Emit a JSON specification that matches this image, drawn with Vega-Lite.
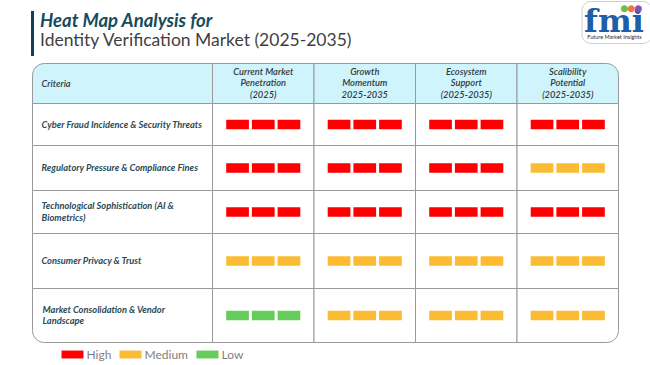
{
  "$schema": "https://vega.github.io/schema/vega-lite/v6.json",
  "padding": {"left": 30.5, "top": 0, "right": 0, "bottom": 0},
  "spacing": 4.5,
  "resolve": {"scale": {"color": "independent"}, "legend": {"color": "independent"}},
  "config": {"view": {"stroke": null}, "font": "Lato"},
  "datasets": {
    "crit": [
      {"criteria": "Cyber Fraud Incidence & Security Threats", "label": "Cyber Fraud Incidence & Security Threats"},
      {"criteria": "Regulatory Pressure & Compliance Fines", "label": "Regulatory Pressure & Compliance Fines"},
      {"criteria": "Technological Sophistication (AI & Biometrics)", "label": "Technological Sophistication (AI &\nBiometrics)"},
      {"criteria": "Consumer Privacy & Trust", "label": "Consumer Privacy & Trust"},
      {"criteria": "Market Consolidation & Vendor Landscape", "label": "Market Consolidation & Vendor\nLandscape"}
    ],
    "metrics": [
      {"metric": "Current Market Penetration (2025)", "head": "Current Market\nPenetration\n(2025)"},
      {"metric": "Growth Momentum 2025-2035", "head": "Growth\nMomentum\n2025-2035"},
      {"metric": "Ecosystem Support (2025-2035)", "head": "Ecosystem\nSupport\n(2025-2035)"},
      {"metric": "Scalibility Potential (2025-2035)", "head": "Scalibility\nPotential\n(2025-2035)"}
    ],
    "cells": [
      {"criteria": "Cyber Fraud Incidence & Security Threats", "metric": "Current Market Penetration (2025)", "level": "High", "bar": 1},
      {"criteria": "Cyber Fraud Incidence & Security Threats", "metric": "Current Market Penetration (2025)", "level": "High", "bar": 2},
      {"criteria": "Cyber Fraud Incidence & Security Threats", "metric": "Current Market Penetration (2025)", "level": "High", "bar": 3},
      {"criteria": "Cyber Fraud Incidence & Security Threats", "metric": "Growth Momentum 2025-2035", "level": "High", "bar": 1},
      {"criteria": "Cyber Fraud Incidence & Security Threats", "metric": "Growth Momentum 2025-2035", "level": "High", "bar": 2},
      {"criteria": "Cyber Fraud Incidence & Security Threats", "metric": "Growth Momentum 2025-2035", "level": "High", "bar": 3},
      {"criteria": "Cyber Fraud Incidence & Security Threats", "metric": "Ecosystem Support (2025-2035)", "level": "High", "bar": 1},
      {"criteria": "Cyber Fraud Incidence & Security Threats", "metric": "Ecosystem Support (2025-2035)", "level": "High", "bar": 2},
      {"criteria": "Cyber Fraud Incidence & Security Threats", "metric": "Ecosystem Support (2025-2035)", "level": "High", "bar": 3},
      {"criteria": "Cyber Fraud Incidence & Security Threats", "metric": "Scalibility Potential (2025-2035)", "level": "High", "bar": 1},
      {"criteria": "Cyber Fraud Incidence & Security Threats", "metric": "Scalibility Potential (2025-2035)", "level": "High", "bar": 2},
      {"criteria": "Cyber Fraud Incidence & Security Threats", "metric": "Scalibility Potential (2025-2035)", "level": "High", "bar": 3},
      {"criteria": "Regulatory Pressure & Compliance Fines", "metric": "Current Market Penetration (2025)", "level": "High", "bar": 1},
      {"criteria": "Regulatory Pressure & Compliance Fines", "metric": "Current Market Penetration (2025)", "level": "High", "bar": 2},
      {"criteria": "Regulatory Pressure & Compliance Fines", "metric": "Current Market Penetration (2025)", "level": "High", "bar": 3},
      {"criteria": "Regulatory Pressure & Compliance Fines", "metric": "Growth Momentum 2025-2035", "level": "High", "bar": 1},
      {"criteria": "Regulatory Pressure & Compliance Fines", "metric": "Growth Momentum 2025-2035", "level": "High", "bar": 2},
      {"criteria": "Regulatory Pressure & Compliance Fines", "metric": "Growth Momentum 2025-2035", "level": "High", "bar": 3},
      {"criteria": "Regulatory Pressure & Compliance Fines", "metric": "Ecosystem Support (2025-2035)", "level": "High", "bar": 1},
      {"criteria": "Regulatory Pressure & Compliance Fines", "metric": "Ecosystem Support (2025-2035)", "level": "High", "bar": 2},
      {"criteria": "Regulatory Pressure & Compliance Fines", "metric": "Ecosystem Support (2025-2035)", "level": "High", "bar": 3},
      {"criteria": "Regulatory Pressure & Compliance Fines", "metric": "Scalibility Potential (2025-2035)", "level": "Medium", "bar": 1},
      {"criteria": "Regulatory Pressure & Compliance Fines", "metric": "Scalibility Potential (2025-2035)", "level": "Medium", "bar": 2},
      {"criteria": "Regulatory Pressure & Compliance Fines", "metric": "Scalibility Potential (2025-2035)", "level": "Medium", "bar": 3},
      {"criteria": "Technological Sophistication (AI & Biometrics)", "metric": "Current Market Penetration (2025)", "level": "High", "bar": 1},
      {"criteria": "Technological Sophistication (AI & Biometrics)", "metric": "Current Market Penetration (2025)", "level": "High", "bar": 2},
      {"criteria": "Technological Sophistication (AI & Biometrics)", "metric": "Current Market Penetration (2025)", "level": "High", "bar": 3},
      {"criteria": "Technological Sophistication (AI & Biometrics)", "metric": "Growth Momentum 2025-2035", "level": "High", "bar": 1},
      {"criteria": "Technological Sophistication (AI & Biometrics)", "metric": "Growth Momentum 2025-2035", "level": "High", "bar": 2},
      {"criteria": "Technological Sophistication (AI & Biometrics)", "metric": "Growth Momentum 2025-2035", "level": "High", "bar": 3},
      {"criteria": "Technological Sophistication (AI & Biometrics)", "metric": "Ecosystem Support (2025-2035)", "level": "High", "bar": 1},
      {"criteria": "Technological Sophistication (AI & Biometrics)", "metric": "Ecosystem Support (2025-2035)", "level": "High", "bar": 2},
      {"criteria": "Technological Sophistication (AI & Biometrics)", "metric": "Ecosystem Support (2025-2035)", "level": "High", "bar": 3},
      {"criteria": "Technological Sophistication (AI & Biometrics)", "metric": "Scalibility Potential (2025-2035)", "level": "High", "bar": 1},
      {"criteria": "Technological Sophistication (AI & Biometrics)", "metric": "Scalibility Potential (2025-2035)", "level": "High", "bar": 2},
      {"criteria": "Technological Sophistication (AI & Biometrics)", "metric": "Scalibility Potential (2025-2035)", "level": "High", "bar": 3},
      {"criteria": "Consumer Privacy & Trust", "metric": "Current Market Penetration (2025)", "level": "Medium", "bar": 1},
      {"criteria": "Consumer Privacy & Trust", "metric": "Current Market Penetration (2025)", "level": "Medium", "bar": 2},
      {"criteria": "Consumer Privacy & Trust", "metric": "Current Market Penetration (2025)", "level": "Medium", "bar": 3},
      {"criteria": "Consumer Privacy & Trust", "metric": "Growth Momentum 2025-2035", "level": "Medium", "bar": 1},
      {"criteria": "Consumer Privacy & Trust", "metric": "Growth Momentum 2025-2035", "level": "Medium", "bar": 2},
      {"criteria": "Consumer Privacy & Trust", "metric": "Growth Momentum 2025-2035", "level": "Medium", "bar": 3},
      {"criteria": "Consumer Privacy & Trust", "metric": "Ecosystem Support (2025-2035)", "level": "Medium", "bar": 1},
      {"criteria": "Consumer Privacy & Trust", "metric": "Ecosystem Support (2025-2035)", "level": "Medium", "bar": 2},
      {"criteria": "Consumer Privacy & Trust", "metric": "Ecosystem Support (2025-2035)", "level": "Medium", "bar": 3},
      {"criteria": "Consumer Privacy & Trust", "metric": "Scalibility Potential (2025-2035)", "level": "Medium", "bar": 1},
      {"criteria": "Consumer Privacy & Trust", "metric": "Scalibility Potential (2025-2035)", "level": "Medium", "bar": 2},
      {"criteria": "Consumer Privacy & Trust", "metric": "Scalibility Potential (2025-2035)", "level": "Medium", "bar": 3},
      {"criteria": "Market Consolidation & Vendor Landscape", "metric": "Current Market Penetration (2025)", "level": "Low", "bar": 1},
      {"criteria": "Market Consolidation & Vendor Landscape", "metric": "Current Market Penetration (2025)", "level": "Low", "bar": 2},
      {"criteria": "Market Consolidation & Vendor Landscape", "metric": "Current Market Penetration (2025)", "level": "Low", "bar": 3},
      {"criteria": "Market Consolidation & Vendor Landscape", "metric": "Growth Momentum 2025-2035", "level": "Medium", "bar": 1},
      {"criteria": "Market Consolidation & Vendor Landscape", "metric": "Growth Momentum 2025-2035", "level": "Medium", "bar": 2},
      {"criteria": "Market Consolidation & Vendor Landscape", "metric": "Growth Momentum 2025-2035", "level": "Medium", "bar": 3},
      {"criteria": "Market Consolidation & Vendor Landscape", "metric": "Ecosystem Support (2025-2035)", "level": "Medium", "bar": 1},
      {"criteria": "Market Consolidation & Vendor Landscape", "metric": "Ecosystem Support (2025-2035)", "level": "Medium", "bar": 2},
      {"criteria": "Market Consolidation & Vendor Landscape", "metric": "Ecosystem Support (2025-2035)", "level": "Medium", "bar": 3},
      {"criteria": "Market Consolidation & Vendor Landscape", "metric": "Scalibility Potential (2025-2035)", "level": "Medium", "bar": 1},
      {"criteria": "Market Consolidation & Vendor Landscape", "metric": "Scalibility Potential (2025-2035)", "level": "Medium", "bar": 2},
      {"criteria": "Market Consolidation & Vendor Landscape", "metric": "Scalibility Potential (2025-2035)", "level": "Medium", "bar": 3}
    ]
  },
  "vconcat": [
    {
      "spacing": 0,
      "bounds": "flush",
      "hconcat": [
        {
          "width": 549, "height": 55,
          "data": {"values": [{"k": "a", "t": "Heat Map Analysis for"}, {"k": "b", "t": "Identity Verification Market (2025-2035)"}]},
          "encoding": {"y": {"field": "k", "type": "nominal", "axis": null, "scale": {"domain": ["a", "b"], "paddingInner": 0, "paddingOuter": 0}}},
          "layer": [
            {
              "transform": [{"filter": "datum.k === 'a'"}],
              "mark": {"type": "rule", "color": "#153f52", "strokeWidth": 3},
              "encoding": {"x": {"value": 0}, "y": {"field": "k", "type": "nominal", "bandPosition": 0.36}, "y2": {"value": "height"}}
            },
            {
              "transform": [{"filter": "datum.k === 'a'"}],
              "mark": {"type": "text", "align": "left", "baseline": "middle", "dx": 7.5, "dy": 6.5, "fontSize": 18.5, "fontWeight": "bold", "fontStyle": "italic", "color": "#174b5c"},
              "encoding": {"x": {"value": 0}, "text": {"field": "t"}}
            },
            {
              "transform": [{"filter": "datum.k === 'b'"}],
              "mark": {"type": "text", "align": "left", "baseline": "middle", "dx": 7.5, "dy": -1, "fontSize": 17.5, "color": "#3f3f3f"},
              "encoding": {"x": {"value": 0}, "text": {"field": "t"}}
            }
          ]
        },
        {
          "width": 70, "height": 42,
          "view": {"stroke": "#cfcfcf", "cornerRadius": 9},
          "data": {"values": [{"t": "fmi", "s": "Future Market Insights", "d": "●"}]},
          "layer": [
            {"mark": {"type": "text", "font": "DejaVu Serif", "fontWeight": "bold", "fontSize": 32, "color": "#1f5fa8", "baseline": "alphabetic", "dx": -2.5, "dy": 9.5}, "encoding": {"text": {"field": "t"}}},
            {"mark": {"type": "text", "fontSize": 5.5, "color": "#1a2a4a", "baseline": "middle", "dx": -2, "dy": 14.5}, "encoding": {"text": {"field": "s"}}},
            {"mark": {"type": "text", "font": "DejaVu Sans", "fontSize": 9, "color": "#6cbf4a", "baseline": "middle", "dx": 8, "dy": -14}, "encoding": {"text": {"field": "d"}}},
            {"mark": {"type": "text", "font": "DejaVu Sans", "fontSize": 9, "color": "#f0783c", "baseline": "middle", "dx": 15, "dy": -14}, "encoding": {"text": {"field": "d"}}},
            {"mark": {"type": "text", "font": "DejaVu Sans", "fontSize": 9, "color": "#8c4fb0", "baseline": "middle", "dx": 22, "dy": -14}, "encoding": {"text": {"field": "d"}}}
          ]
        }
      ]
    },
    {
      "columns": 2,
      "align": "each",
      "spacing": 0,
      "bounds": "flush",
      "resolve": {"scale": {"color": "independent"}, "legend": {"color": "independent"}},
      "concat": [
        {
          "width": 180, "height": 40,
          "data": {"values": [{"h": "Criteria"}]},
          "layer": [
            {"mark": {"type": "rect", "fill": "#cff4fc", "stroke": "#999999", "cornerRadiusTopLeft": 12}, "encoding": {"x": {"value": 0}, "x2": {"value": "width"}, "y": {"value": 0}, "y2": {"value": "height"}}},
            {"mark": {"type": "text", "align": "left", "baseline": "middle", "dx": 9, "fontSize": 9.3, "fontWeight": 600, "fontStyle": "italic", "color": "#333b42"}, "encoding": {"x": {"value": 0}, "text": {"field": "h"}}}
          ]
        },
        {
          "width": 406, "height": 40,
          "data": {"name": "metrics"},
          "encoding": {"x": {"field": "metric", "type": "nominal", "axis": null, "scale": {"domain": ["Current Market Penetration (2025)", "Growth Momentum 2025-2035", "Ecosystem Support (2025-2035)", "Scalibility Potential (2025-2035)"], "paddingInner": 0, "paddingOuter": 0}}},
          "layer": [
            {"transform": [{"filter": "datum.metric !== 'Scalibility Potential (2025-2035)'"}], "mark": {"type": "rect", "fill": "#cff4fc", "stroke": "#999999"}, "encoding": {"y": {"value": 0}, "y2": {"value": "height"}}},
            {"transform": [{"filter": "datum.metric === 'Scalibility Potential (2025-2035)'"}], "mark": {"type": "rect", "fill": "#cff4fc", "stroke": "#999999", "cornerRadiusTopRight": 12}, "encoding": {"y": {"value": 0}, "y2": {"value": "height"}}},
            {"mark": {"type": "text", "baseline": "middle", "dy": -11.7, "lineBreak": "\n", "lineHeight": 11.7, "fontSize": 9.3, "fontWeight": 600, "fontStyle": "italic", "color": "#333b42"}, "encoding": {"text": {"field": "head"}}}
          ]
        },
        {
          "width": 180, "height": 42, "data": {"name": "crit"},
          "transform": [{"filter": {"field": "criteria", "equal": "Cyber Fraud Incidence & Security Threats"}}],
          "layer": [
            {"mark": {"type": "rect", "fill": "white", "stroke": "#999999"}, "encoding": {"x": {"value": 0}, "x2": {"value": "width"}, "y": {"value": 0}, "y2": {"value": "height"}}},
            {"mark": {"type": "text", "align": "left", "baseline": "middle", "dx": 9, "fontSize": 9.3, "fontWeight": "bold", "fontStyle": "italic", "color": "#2b4a55", "lineBreak": "\n", "lineHeight": 11.7}, "encoding": {"x": {"value": 0}, "text": {"field": "label"}}}
          ]
        },
        {
          "width": 406, "height": 42, "data": {"name": "cells"},
          "transform": [{"filter": {"field": "criteria", "equal": "Cyber Fraud Incidence & Security Threats"}}],
          "encoding": {"x": {"field": "metric", "type": "nominal", "axis": null, "scale": {"domain": ["Current Market Penetration (2025)", "Growth Momentum 2025-2035", "Ecosystem Support (2025-2035)", "Scalibility Potential (2025-2035)"], "paddingInner": 0, "paddingOuter": 0}}},
          "layer": [
            {"transform": [{"filter": "datum.bar === 1"}], "mark": {"type": "rect", "fill": "white", "stroke": "#999999"}, "encoding": {"y": {"value": 0}, "y2": {"value": "height"}}},
            {"mark": {"type": "bar", "height": 9.5}, "encoding": {
              "xOffset": {"field": "bar", "type": "ordinal", "scale": {"paddingInner": 0.117, "paddingOuter": 0.533}},
              "y": {"field": "criteria", "type": "nominal", "axis": null},
              "color": {"field": "level", "type": "nominal", "legend": null, "scale": {"domain": ["High", "Medium", "Low"], "range": ["#ff0000", "#fbbb33", "#66cc5b"]}}}}
          ]
        },
        {
          "width": 180, "height": 45, "data": {"name": "crit"},
          "transform": [{"filter": {"field": "criteria", "equal": "Regulatory Pressure & Compliance Fines"}}],
          "layer": [
            {"mark": {"type": "rect", "fill": "white", "stroke": "#999999"}, "encoding": {"x": {"value": 0}, "x2": {"value": "width"}, "y": {"value": 0}, "y2": {"value": "height"}}},
            {"mark": {"type": "text", "align": "left", "baseline": "middle", "dx": 9, "fontSize": 9.3, "fontWeight": "bold", "fontStyle": "italic", "color": "#2b4a55", "lineBreak": "\n", "lineHeight": 11.7}, "encoding": {"x": {"value": 0}, "text": {"field": "label"}}}
          ]
        },
        {
          "width": 406, "height": 45, "data": {"name": "cells"},
          "transform": [{"filter": {"field": "criteria", "equal": "Regulatory Pressure & Compliance Fines"}}],
          "encoding": {"x": {"field": "metric", "type": "nominal", "axis": null, "scale": {"domain": ["Current Market Penetration (2025)", "Growth Momentum 2025-2035", "Ecosystem Support (2025-2035)", "Scalibility Potential (2025-2035)"], "paddingInner": 0, "paddingOuter": 0}}},
          "layer": [
            {"transform": [{"filter": "datum.bar === 1"}], "mark": {"type": "rect", "fill": "white", "stroke": "#999999"}, "encoding": {"y": {"value": 0}, "y2": {"value": "height"}}},
            {"mark": {"type": "bar", "height": 9.5}, "encoding": {
              "xOffset": {"field": "bar", "type": "ordinal", "scale": {"paddingInner": 0.117, "paddingOuter": 0.533}},
              "y": {"field": "criteria", "type": "nominal", "axis": null},
              "color": {"field": "level", "type": "nominal", "legend": null, "scale": {"domain": ["High", "Medium", "Low"], "range": ["#ff0000", "#fbbb33", "#66cc5b"]}}}}
          ]
        },
        {
          "width": 180, "height": 43, "data": {"name": "crit"},
          "transform": [{"filter": {"field": "criteria", "equal": "Technological Sophistication (AI & Biometrics)"}}],
          "layer": [
            {"mark": {"type": "rect", "fill": "white", "stroke": "#999999"}, "encoding": {"x": {"value": 0}, "x2": {"value": "width"}, "y": {"value": 0}, "y2": {"value": "height"}}},
            {"mark": {"type": "text", "align": "left", "baseline": "middle", "dx": 9, "dy": -5.85, "fontSize": 9.3, "fontWeight": "bold", "fontStyle": "italic", "color": "#2b4a55", "lineBreak": "\n", "lineHeight": 11.7}, "encoding": {"x": {"value": 0}, "text": {"field": "label"}}}
          ]
        },
        {
          "width": 406, "height": 43, "data": {"name": "cells"},
          "transform": [{"filter": {"field": "criteria", "equal": "Technological Sophistication (AI & Biometrics)"}}],
          "encoding": {"x": {"field": "metric", "type": "nominal", "axis": null, "scale": {"domain": ["Current Market Penetration (2025)", "Growth Momentum 2025-2035", "Ecosystem Support (2025-2035)", "Scalibility Potential (2025-2035)"], "paddingInner": 0, "paddingOuter": 0}}},
          "layer": [
            {"transform": [{"filter": "datum.bar === 1"}], "mark": {"type": "rect", "fill": "white", "stroke": "#999999"}, "encoding": {"y": {"value": 0}, "y2": {"value": "height"}}},
            {"mark": {"type": "bar", "height": 9.5}, "encoding": {
              "xOffset": {"field": "bar", "type": "ordinal", "scale": {"paddingInner": 0.117, "paddingOuter": 0.533}},
              "y": {"field": "criteria", "type": "nominal", "axis": null},
              "color": {"field": "level", "type": "nominal", "legend": null, "scale": {"domain": ["High", "Medium", "Low"], "range": ["#ff0000", "#fbbb33", "#66cc5b"]}}}}
          ]
        },
        {
          "width": 180, "height": 55, "data": {"name": "crit"},
          "transform": [{"filter": {"field": "criteria", "equal": "Consumer Privacy & Trust"}}],
          "layer": [
            {"mark": {"type": "rect", "fill": "white", "stroke": "#999999"}, "encoding": {"x": {"value": 0}, "x2": {"value": "width"}, "y": {"value": 0}, "y2": {"value": "height"}}},
            {"mark": {"type": "text", "align": "left", "baseline": "middle", "dx": 9, "fontSize": 9.3, "fontWeight": "bold", "fontStyle": "italic", "color": "#2b4a55", "lineBreak": "\n", "lineHeight": 11.7}, "encoding": {"x": {"value": 0}, "text": {"field": "label"}}}
          ]
        },
        {
          "width": 406, "height": 55, "data": {"name": "cells"},
          "transform": [{"filter": {"field": "criteria", "equal": "Consumer Privacy & Trust"}}],
          "encoding": {"x": {"field": "metric", "type": "nominal", "axis": null, "scale": {"domain": ["Current Market Penetration (2025)", "Growth Momentum 2025-2035", "Ecosystem Support (2025-2035)", "Scalibility Potential (2025-2035)"], "paddingInner": 0, "paddingOuter": 0}}},
          "layer": [
            {"transform": [{"filter": "datum.bar === 1"}], "mark": {"type": "rect", "fill": "white", "stroke": "#999999"}, "encoding": {"y": {"value": 0}, "y2": {"value": "height"}}},
            {"mark": {"type": "bar", "height": 9.5}, "encoding": {
              "xOffset": {"field": "bar", "type": "ordinal", "scale": {"paddingInner": 0.117, "paddingOuter": 0.533}},
              "y": {"field": "criteria", "type": "nominal", "axis": null},
              "color": {"field": "level", "type": "nominal", "legend": null, "scale": {"domain": ["High", "Medium", "Low"], "range": ["#ff0000", "#fbbb33", "#66cc5b"]}}}}
          ]
        },
        {
          "width": 180, "height": 54, "data": {"name": "crit"},
          "transform": [{"filter": {"field": "criteria", "equal": "Market Consolidation & Vendor Landscape"}}],
          "layer": [
            {"mark": {"type": "rect", "fill": "white", "stroke": "#999999", "cornerRadiusBottomLeft": 12}, "encoding": {"x": {"value": 0}, "x2": {"value": "width"}, "y": {"value": 0}, "y2": {"value": "height"}}},
            {"mark": {"type": "text", "align": "left", "baseline": "middle", "dx": 10, "dy": -5.85, "fontSize": 9.3, "fontWeight": "bold", "fontStyle": "italic", "color": "#2b4a55", "lineBreak": "\n", "lineHeight": 11.7}, "encoding": {"x": {"value": 0}, "text": {"field": "label"}}}
          ]
        },
        {
          "width": 406, "height": 54, "data": {"name": "cells"},
          "transform": [{"filter": {"field": "criteria", "equal": "Market Consolidation & Vendor Landscape"}}],
          "encoding": {"x": {"field": "metric", "type": "nominal", "axis": null, "scale": {"domain": ["Current Market Penetration (2025)", "Growth Momentum 2025-2035", "Ecosystem Support (2025-2035)", "Scalibility Potential (2025-2035)"], "paddingInner": 0, "paddingOuter": 0}}},
          "layer": [
            {"transform": [{"filter": "datum.bar === 1 && datum.metric !== 'Scalibility Potential (2025-2035)'"}], "mark": {"type": "rect", "fill": "white", "stroke": "#999999"}, "encoding": {"y": {"value": 0}, "y2": {"value": "height"}}},
            {"transform": [{"filter": "datum.bar === 1 && datum.metric === 'Scalibility Potential (2025-2035)'"}], "mark": {"type": "rect", "fill": "white", "stroke": "#999999", "cornerRadiusBottomRight": 12}, "encoding": {"y": {"value": 0}, "y2": {"value": "height"}}},
            {"mark": {"type": "bar", "height": 9.5}, "encoding": {
              "xOffset": {"field": "bar", "type": "ordinal", "scale": {"paddingInner": 0.117, "paddingOuter": 0.533}},
              "y": {"field": "criteria", "type": "nominal", "axis": null},
              "color": {"field": "level", "type": "nominal", "scale": {"domain": ["High", "Medium", "Low"], "range": ["#ff0000", "#fbbb33", "#66cc5b"]},
                "legend": {"orient": "none", "legendX": -151, "legendY": 55, "direction": "horizontal", "title": null, "symbolType": "M-1,-0.36H1V0.36H-1Z", "symbolSize": 484, "symbolStrokeWidth": 0, "symbolOpacity": 1, "labelFontSize": 12, "labelColor": "#7f7f7f", "labelFont": "Lato", "columnPadding": 8, "labelOffset": 3, "padding": 0}}}}
          ]
        }
      ]
    }
  ]
}
